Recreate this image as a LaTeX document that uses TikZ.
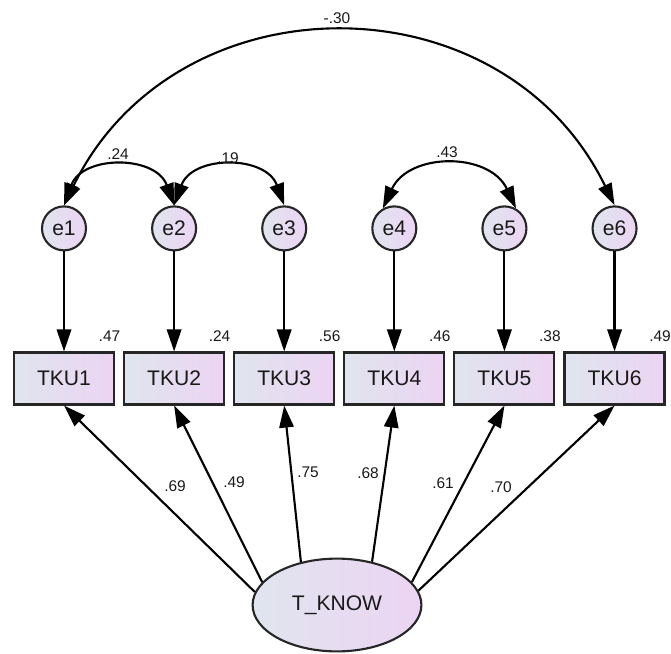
\documentclass[tikz,border=0pt]{standalone}
\usepackage{fontspec}
\setmainfont{Liberation Sans}
\usetikzlibrary{positioning,arrows.meta,shapes.geometric}
\definecolor{nodeleft}{RGB}{224,229,238}
\definecolor{noderight}{RGB}{236,212,243}
\colorlet{linecolor}{black}
\colorlet{textcolor}{black!90}

\begin{document}
\begin{tikzpicture}[node distance=.2cm,>={Triangle[length=.55cm,width=.36cm]},every node/.style={font=\fontsize{15}{18}\selectfont,text=textcolor},obs/.style={draw=linecolor!85,line width=1.5pt,left color=nodeleft,right color=noderight,minimum width=2.5cm,minimum height=1.3cm,inner sep=0pt},err/.style={circle,draw=linecolor!85,line width=1.5pt,left color=nodeleft,right color=noderight,minimum size=1.1cm,inner sep=0pt},lat/.style={ellipse,draw=linecolor!85,line width=1.5pt,left color=nodeleft,right color=noderight,minimum width=4.22cm,minimum height=2.32cm},lbl/.style={font=\fontsize{11}{13}\selectfont,inner sep=1pt},reg/.style={->,line width=1.5pt,draw=linecolor},cov/.style={<->,line width=1.5pt,draw=linecolor}]
        \useasboundingbox (0,0) rectangle (16.775,16.325);
        % observed indicators
        \node[obs] (tku1) at (1.6,6.8625) {TKU1};
        \node[obs,right=of tku1] (tku2) {TKU2};
        \node[obs,right=of tku2] (tku3) {TKU3};
        \node[obs,right=of tku3] (tku4) {TKU4};
        \node[obs,right=of tku4] (tku5) {TKU5};
        \node[obs,right=of tku5] (tku6) {TKU6};
        % error terms
        \node[err,above=2.5cm of tku1] (e1) {e1};
        \node[err,above=2.5cm of tku2] (e2) {e2};
        \node[err,above=2.5cm of tku3] (e3) {e3};
        \node[err,above=2.5cm of tku4] (e4) {e4};
        \node[err,above=2.5cm of tku5] (e5) {e5};
        \node[err,above=2.5cm of tku6] (e6) {e6};
        % latent factor
        \node[lat] (know) at (8.425,1.2) {T\_KNOW};
        \draw[reg] (e1.south)--(tku1.north);
        \draw[reg] (e2.south)--(tku2.north);
        \draw[reg] (e3.south)--(tku3.north);
        \draw[reg] (e4.south)--(tku4.north);
        \draw[reg] (e5.south)--(tku5.north);
        \draw[reg] (e6.south)--(tku6.north);
        \draw[reg] (know.171)--(tku1.south);
        \draw[reg] (know.163)--(tku2.south);
        \draw[reg] (know.130)--(tku3.south);
        \draw[reg] (know.51)--(tku4.south);
        \draw[reg] (know.17)--(tku5.south);
        \draw[reg] (know.10)--(tku6.south);
        % error covariances
        \draw[cov] (e1.north) to[out=70,in=110,looseness=1.25] (e2.north);
        \draw[cov] (e2.north) to[out=70,in=110,looseness=1.25] (e3.north);
        \draw[cov] (e4.120) to[out=65,in=115,looseness=1.2] (e5.60);
        \draw[cov] (e1.north) to[out=64,in=116,looseness=1.19] (e6.north);
        \node[lbl] (c12) at (2.95,12.475) {.24};
        \node[lbl] (c23) at (5.7,12.375) {.19};
        \node[lbl] (c45) at (11.175,12.525) {.43};
        \node[lbl] (c16) at (8.425,15.875) {-.30};
        % squared multiple correlations
        \node[lbl] (r1) at ([shift={(-.14,.375)}]tku1.north east) {.47};
        \node[lbl] (r2) at ([shift={(-.14,.375)}]tku2.north east) {.24};
        \node[lbl] (r3) at ([shift={(-.14,.375)}]tku3.north east) {.56};
        \node[lbl] (r4) at ([shift={(-.14,.375)}]tku4.north east) {.46};
        \node[lbl] (r5) at ([shift={(-.14,.375)}]tku5.north east) {.38};
        \node[lbl] (r6) at ([shift={(-.14,.375)}]tku6.north east) {.49};
        % loadings
        \node[lbl] (l1) at (4.375,4.175) {.69};
        \node[lbl] (l2) at (5.85,4.275) {.49};
        \node[lbl] (l3) at (7.7,4.525) {.75};
        \node[lbl] (l4) at (9.2,4.5) {.68};
        \node[lbl] (l5) at (11.075,4.25) {.61};
        \node[lbl] (l6) at (12.525,4.15) {.70};
      \end{tikzpicture}
\end{document}
